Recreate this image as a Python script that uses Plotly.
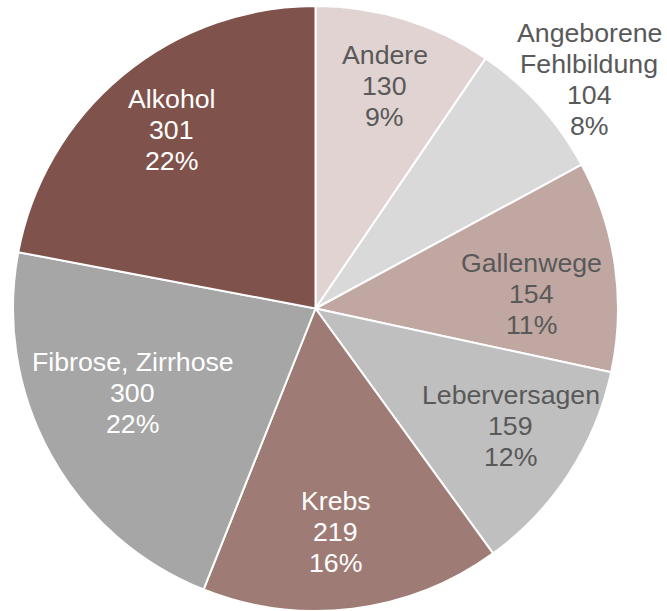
import math
import plotly.graph_objects as go

labels = ["Andere", "Angeborene Fehlbildung", "Gallenwege", "Leberversagen",
          "Krebs", "Fibrose, Zirrhose", "Alkohol"]
label_lines = [["Andere"], ["Angeborene", "Fehlbildung"], ["Gallenwege"], ["Leberversagen"],
               ["Krebs"], ["Fibrose, Zirrhose"], ["Alkohol"]]
values = [130, 104, 154, 159, 219, 300, 301]
percent_labels = ["9%", "8%", "11%", "12%", "16%", "22%", "22%"]

# styles
colors = ["#E0D3D1", "#D9D9D9", "#C0A7A2", "#BFBFBF", "#9E7B74", "#A6A6A6", "#7F524B"]
text_colors = ["#595959", "#595959", "#595959", "#595959", "#FFFFFF", "#FFFFFF", "#FFFFFF"]
label_radius = [0.77, 1.18, 0.714, 0.754, 0.742, 0.665, 0.757]   # fraction of pie radius
label_angle_nudge = [0.2, 2.1, 4.3, -2.1, 1.9, 4.0, 0.8]          # degrees
FONT = "Liberation Sans, Arial, sans-serif"
FONT_SIZE = 26.7
LINE_STEP = 31

W, H = 667, 611
dom_x = [13 / W, 618 / W]
dom_y = [0, 605 / H]

fig = go.Figure(go.Pie(
    labels=labels,
    values=values,
    textinfo="none",
    marker=dict(colors=colors, line=dict(color="white", width=2)),
    sort=False,
    direction="clockwise",
    rotation=0,
    hoverinfo="skip",
    domain=dict(x=dom_x, y=dom_y),
))

# pie geometry in pixels (same as Plotly's domain-based layout)
pw = (dom_x[1] - dom_x[0]) * W
ph = (dom_y[1] - dom_y[0]) * H
r = min(pw, ph) / 2
cx = (dom_x[0] + dom_x[1]) / 2 * W
cy = (dom_y[0] + dom_y[1]) / 2 * H

total = sum(values)
cum = 0
annotations = []
for i, v in enumerate(values):
    mid = (cum + v / 2) / total * 360 + label_angle_nudge[i]
    cum += v
    a = math.radians(mid)
    px = cx + label_radius[i] * r * math.sin(a)
    py = cy + label_radius[i] * r * math.cos(a)
    lines = label_lines[i] + [str(v), percent_labels[i]]
    n = len(lines)
    for k, txt in enumerate(lines):
        shift = ((n - 1) / 2 - k) * LINE_STEP
        annotations.append(dict(
            x=px / W, y=py / H, xref="paper", yref="paper",
            text=txt, showarrow=False, xanchor="center", yanchor="middle",
            yshift=shift,
            font=dict(family=FONT, size=FONT_SIZE, color=text_colors[i]),
        ))

fig.update_layout(
    width=W, height=H,
    margin=dict(l=0, r=0, t=0, b=0),
    showlegend=False,
    paper_bgcolor="white",
    plot_bgcolor="white",
    annotations=annotations,
)
fig.write_html(
    "out.html",
    config={"displayModeBar": False},
    post_script="document.body.style.margin='0';document.body.style.overflow='hidden';",
)
